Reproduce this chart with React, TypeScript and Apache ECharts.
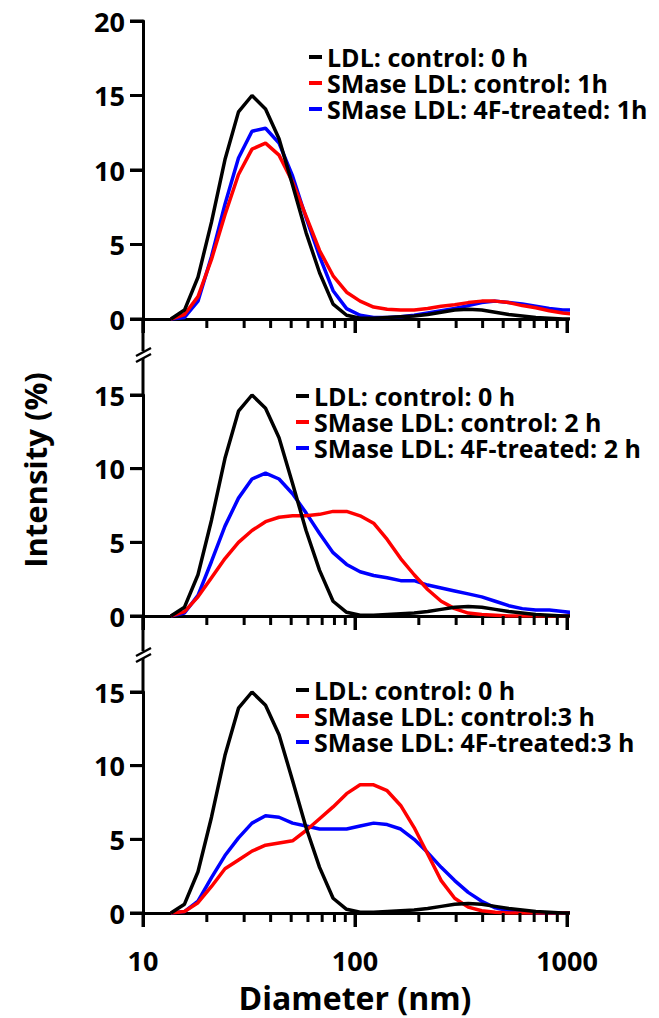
import React, { useEffect, useRef } from "react";
import * as echarts from "echarts";

// Diameter bins (nm)
const diameters = [13.54, 15.69, 18.17, 21.04, 24.36, 28.21, 32.67, 37.84, 43.82, 50.75, 58.77, 68.06, 78.82, 91.28, 105.7, 122.4, 141.8, 164.2, 190.1, 220.2, 255.0, 295.3, 342.0, 396.1, 458.7, 531.2, 615.1, 712.4, 825.0, 955.4, 1106];

// LDL control 0 h (same in all panels)
const control0h = [0, 0.6, 2.8, 6.5, 10.7, 13.9, 15.0, 14.1, 12.1, 9.0, 5.8, 3.1, 1.0, 0.25, 0.05, 0.05, 0.1, 0.15, 0.2, 0.3, 0.45, 0.6, 0.65, 0.6, 0.45, 0.3, 0.2, 0.1, 0.05, 0, 0];
// Panel 1 (1 h)
const smaseControl1h = [0, 0.3, 1.5, 4.0, 7.0, 9.7, 11.4, 11.8, 11.0, 9.2, 6.9, 4.6, 2.9, 1.8, 1.2, 0.8, 0.65, 0.6, 0.6, 0.7, 0.85, 0.95, 1.1, 1.2, 1.2, 1.1, 0.9, 0.75, 0.55, 0.4, 0.3];
const smase4F1h = [0, 0.1, 1.2, 4.2, 7.7, 10.8, 12.6, 12.8, 11.8, 9.6, 6.8, 4.2, 1.9, 0.7, 0.25, 0.1, 0.1, 0.15, 0.25, 0.4, 0.55, 0.7, 0.9, 1.1, 1.2, 1.1, 1.0, 0.85, 0.7, 0.6, 0.6];
// Panel 2 (2 h)
const smaseControl2h = [0, 0.3, 1.3, 2.6, 3.9, 5.0, 5.8, 6.4, 6.7, 6.8, 6.8, 6.9, 7.1, 7.1, 6.8, 6.3, 5.2, 3.9, 2.8, 1.8, 1.0, 0.5, 0.2, 0.1, 0.05, 0, 0, 0, 0, 0, 0];
const smase4F2h = [0, 0.2, 1.4, 3.7, 6.1, 8.0, 9.3, 9.7, 9.3, 8.3, 7.0, 5.6, 4.3, 3.5, 3.0, 2.75, 2.6, 2.4, 2.4, 2.1, 1.9, 1.7, 1.5, 1.3, 1.0, 0.7, 0.5, 0.4, 0.4, 0.3, 0.2];
// Panel 3 (3 h)
const smaseControl3h = [0, 0.1, 0.7, 1.8, 3.0, 3.6, 4.2, 4.6, 4.75, 4.9, 5.6, 6.4, 7.2, 8.1, 8.7, 8.7, 8.3, 7.3, 5.8, 4.0, 2.2, 1.0, 0.4, 0.15, 0.05, 0, 0, 0, 0, 0, 0];
const smase4F3h = [0, 0.1, 0.8, 2.4, 3.9, 5.1, 6.1, 6.6, 6.5, 6.1, 5.9, 5.7, 5.7, 5.7, 5.9, 6.1, 6.0, 5.7, 5.0, 4.1, 3.1, 2.2, 1.4, 0.8, 0.35, 0.15, 0.05, 0, 0, 0, 0];

const majorTicks = [10, 100, 1000];
const minorTicks = [20, 30, 40, 50, 60, 70, 80, 90, 200, 300, 400, 500, 600, 700, 800, 900];
const yTickValues = [[0, 5, 10, 15, 20], [0, 5, 10, 15], [0, 5, 10, 15]];
const yMax = [20, 15, 15];

const panelNames = [
  ["LDL: control: 0 h", "SMase LDL: control: 1h", "SMase LDL: 4F-treated: 1h"],
  ["LDL: control: 0 h", "SMase LDL: control: 2 h", "SMase LDL: 4F-treated: 2 h"],
  ["LDL: control: 0 h", "SMase LDL: control:3 h", "SMase LDL: 4F-treated:3 h"],
];
const panelData = [
  [control0h, smaseControl1h, smase4F1h],
  [control0h, smaseControl2h, smase4F2h],
  [control0h, smaseControl3h, smase4F3h],
];
const colors = ["#000000", "#ff0000", "#0000ff"];

const FONT = "'Open Sans', 'DejaVu Sans', sans-serif";

export default function App() {
  const ref = useRef<HTMLDivElement>(null);
  useEffect(() => {
    if (!ref.current) return;
    const chart = echarts.init(ref.current, null, { renderer: "svg" });
    const L = 143, W = 424;
    const grids = [
      { left: L, top: 21, width: W, height: 298 },
      { left: L, top: 395, width: W, height: 221 },
      { left: L, top: 692, width: W, height: 221 },
    ];
    const xAxis: any[] = [];
    const yAxis: any[] = [];
    const series: any[] = [];
    const legend: any[] = [];
    const legendPos = [
      { left: 304, top: 39 },
      { left: 291, top: 378 },
      { left: 291, top: 672 },
    ];
    grids.forEach((g, i) => {
      xAxis.push({
        type: "log", logBase: 10, min: 10, max: 1000, gridIndex: i, position: "bottom",
        axisLine: { show: true, onZero: false, lineStyle: { color: "#000", width: 3 } },
        axisTick: { show: true, length: 14, customValues: majorTicks, lineStyle: { color: "#000", width: 3 } },
        axisLabel: {
          show: i === 2, customValues: majorTicks, fontSize: 27, fontWeight: "bold",
          fontFamily: FONT, color: "#000", margin: 34,
          formatter: (v: number) => String(Math.round(v)),
        },
        splitLine: { show: false },
        name: i === 2 ? "Diameter (nm)" : "",
        nameLocation: "middle", nameGap: 68,
        nameTextStyle: { fontSize: 32, fontWeight: "bold", fontFamily: FONT, color: "#000" },
      });
      yAxis.push({
        type: "value", gridIndex: i, min: 0, max: yMax[i], interval: 5,
        axisLine: { show: true, onZero: false, lineStyle: { color: "#000", width: 3 } },
        axisTick: { show: true, length: 13, lineStyle: { color: "#000", width: 3 } },
        axisLabel: { fontSize: 27, fontWeight: "bold", fontFamily: FONT, color: "#000", margin: 18 },
        splitLine: { show: false },
      });
      const order = [2, 1, 0];
      order.forEach((k) => {
        series.push({
          type: "line", name: panelNames[i][k], xAxisIndex: i, yAxisIndex: i,
          data: diameters.map((d, j) => [d, panelData[i][k][j]]),
          showSymbol: false, symbol: "none", clip: true,
          color: colors[k],
          lineStyle: { color: colors[k], width: 3.5 },
          z: 3 + (2 - k),
        });
      });
      legend.push({
        data: panelNames[i], orient: "vertical", left: legendPos[i].left, top: legendPos[i].top,
        icon: "rect", itemWidth: 13, itemHeight: 4, itemGap: 0, selectedMode: false,
        textStyle: { fontSize: 25, fontWeight: "bold", fontFamily: FONT, color: "#000", lineHeight: 26 },
      });
    });

    const lineS = { stroke: "#000", lineWidth: 3 };
    const brk = { stroke: "#000", lineWidth: 2.5 };
    const graphic: any[] = [
      { type: "line", z: 100, shape: { x1: L, y1: 319, x2: L, y2: 351 }, style: lineS },
      { type: "line", z: 100, shape: { x1: L, y1: 358, x2: L, y2: 395 }, style: lineS },
      { type: "line", z: 100, shape: { x1: 136, y1: 356, x2: 151, y2: 348 }, style: brk },
      { type: "line", z: 100, shape: { x1: 136, y1: 362, x2: 151, y2: 354 }, style: brk },
      { type: "line", z: 100, shape: { x1: L, y1: 616, x2: L, y2: 651 }, style: lineS },
      { type: "line", z: 100, shape: { x1: L, y1: 658, x2: L, y2: 692 }, style: lineS },
      { type: "line", z: 100, shape: { x1: 136, y1: 656, x2: 151, y2: 648 }, style: brk },
      { type: "line", z: 100, shape: { x1: 136, y1: 662, x2: 151, y2: 654 }, style: brk },
      {
        type: "text", x: 35, y: 470, rotation: Math.PI / 2,
        style: {
          text: "Intensity (%)", fontSize: 31, fontWeight: "bold", fontFamily: FONT, fill: "#000",
          align: "center", verticalAlign: "middle", textAlign: "center", textVerticalAlign: "middle",
        },
      },
    ];
    // Tick marks following each grid's log-x / linear-y layout
    grids.forEach((g, i) => {
      const xOf = (v: number) => g.left + (g.width * (Math.log10(v) - 1)) / 2;
      const yOf = (v: number) => g.top + g.height * (1 - v / yMax[i]);
      const y0 = g.top + g.height;
      majorTicks.forEach((v) => {
        const x = xOf(v);
        graphic.push({ type: "line", z: 100, shape: { x1: x, y1: y0, x2: x, y2: y0 + 14 }, style: lineS });
      });
      minorTicks.forEach((v) => {
        const x = xOf(v);
        graphic.push({ type: "line", z: 100, shape: { x1: x, y1: y0, x2: x, y2: y0 + 9 }, style: lineS });
      });
      yTickValues[i].forEach((v) => {
        const y = yOf(v);
        graphic.push({ type: "line", z: 100, shape: { x1: g.left - 13, y1: y, x2: g.left, y2: y }, style: lineS });
      });
    });

    chart.setOption({
      animation: false,
      backgroundColor: "#fff",
      grid: grids,
      xAxis, yAxis, series, legend, graphic,
    });
    return () => chart.dispose();
  }, []);
  return <div ref={ref} style={{ position: "absolute", left: 0, top: 0, width: 659, height: 1018 }} />;
}
